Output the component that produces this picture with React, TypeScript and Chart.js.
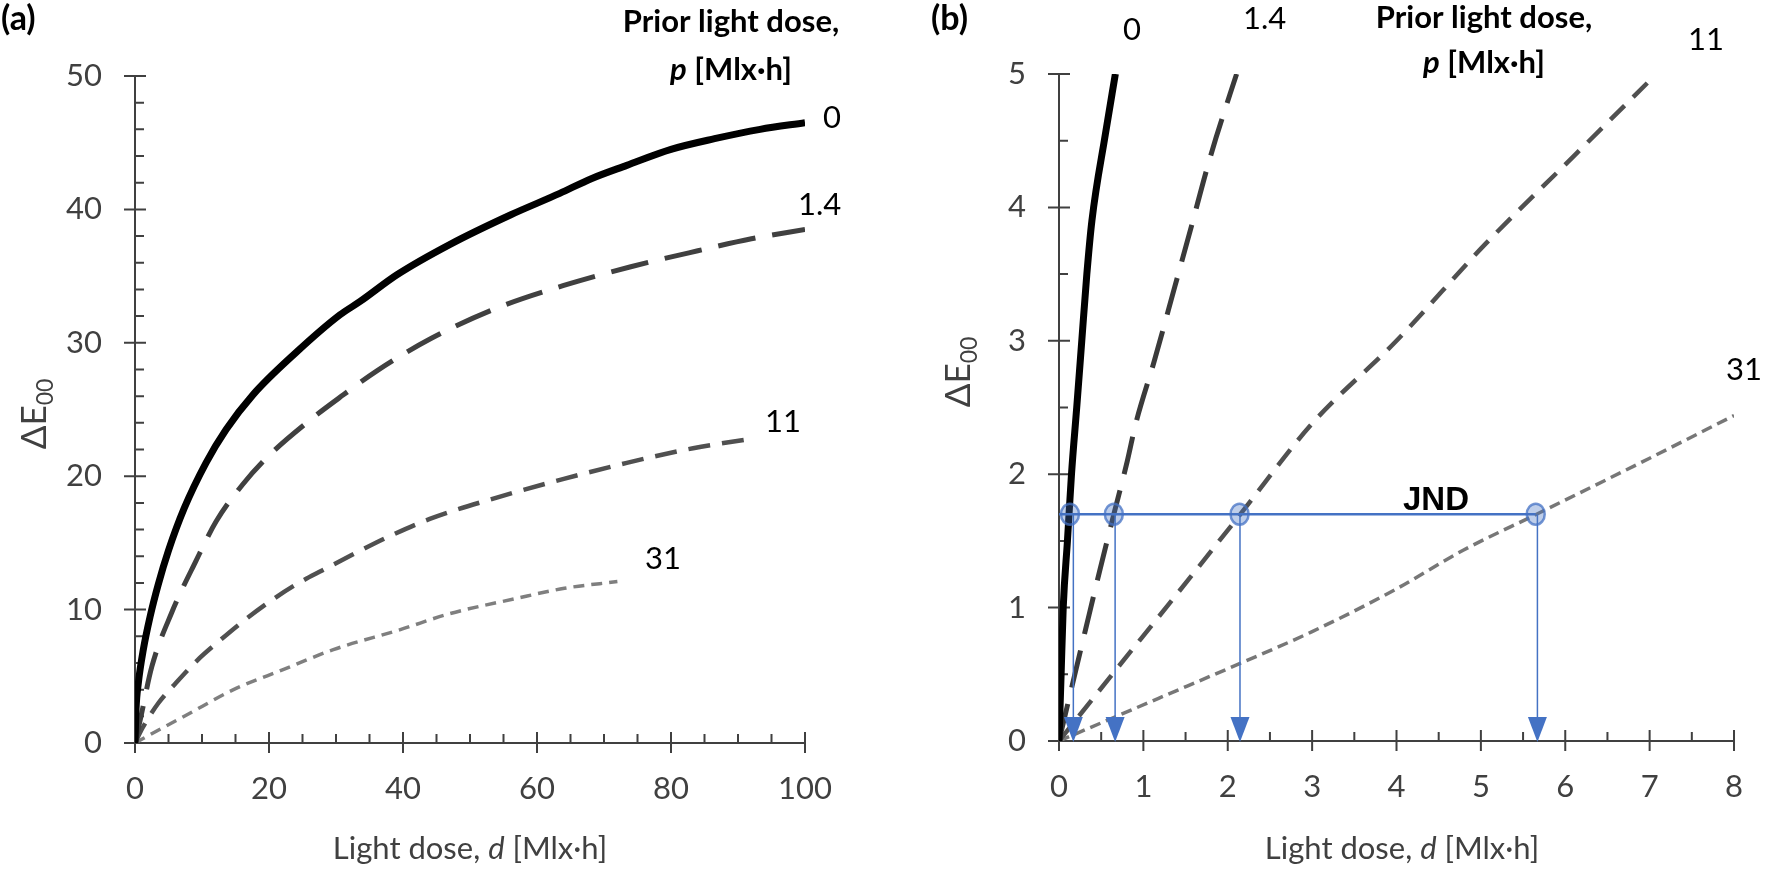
import React, { useEffect, useRef } from 'react';
import { Chart, registerables } from 'chart.js';

Chart.register(...registerables);

// ---------------- Panel (a): full dose range ----------------
const A_X_TICKS = [0, 20, 40, 60, 80, 100];
const A_Y_TICKS = [0, 10, 20, 30, 40, 50];
const A_X_MINOR_STEP = 5;
const A_Y_MINOR_STEP = 2;

// p = 0
const A_DOSE_P0 = [0, 0.15, 0.5, 1.24, 2.24, 3.48, 4.98, 7.35, 10.6, 13.6, 17.6, 24.1, 30.6, 33.6, 39.1, 47.1, 56.1, 63.4, 68.1, 73.4, 80, 86.5, 93.3, 100];
const A_DE_P0 = [0, 2.5, 4.5, 7.0, 9.45, 11.9, 14.4, 17.6, 21.0, 23.5, 26.1, 29.3, 32.1, 33.1, 35.1, 37.4, 39.6, 41.2, 42.3, 43.3, 44.5, 45.3, 46.0, 46.5];
// p = 1.4
const A_DOSE_P14 = [0, 0.85, 2.5, 5.5, 9.05, 12.1, 16.1, 20.1, 26.1, 31.1, 36.1, 44.1, 54, 64, 74, 84, 92, 100];
const A_DE_P14 = [0, 1.9, 5.7, 9.8, 13.6, 16.6, 19.4, 21.6, 24.2, 26.1, 27.9, 30.3, 32.6, 34.3, 35.7, 36.9, 37.8, 38.5];
// p = 11
const A_DOSE_P11 = [0, 1.2, 3.5, 6.1, 9.3, 12.7, 16.2, 20.1, 24.1, 28, 32.2, 38, 44, 54, 64, 73.4, 83.3, 92];
const A_DE_P11 = [0, 1.2, 3.0, 4.5, 6.2, 7.7, 9.15, 10.6, 11.9, 12.95, 14.05, 15.5, 16.8, 18.4, 19.8, 21.0, 22.1, 22.8];
// p = 31
const A_DOSE_P31 = [0, 4, 7.7, 14.7, 22.1, 29.6, 39.6, 47, 56.6, 64.1, 72];
const A_DE_P31 = [0, 1.1, 2.1, 4.0, 5.5, 7.0, 8.5, 9.7, 10.8, 11.6, 12.1];

// ---------------- Panel (b): low dose range ----------------
const B_X_TICKS = [0, 1, 2, 3, 4, 5, 6, 7, 8];
const B_Y_TICKS = [0, 1, 2, 3, 4, 5];
const B_X_MINOR_STEP = 0.5;
const B_Y_MINOR_STEP = 0.5;

const B_DOSE_P0 = [0, 0.025, 0.05, 0.1, 0.148, 0.21, 0.27, 0.33, 0.39, 0.55, 0.668];
const B_DE_P0 = [0, 0.5, 1.0, 1.5, 2.0, 2.5, 3.0, 3.5, 3.9, 4.55, 5.0];
const B_DOSE_P14 = [0, 0.15, 0.32, 0.48, 0.65, 0.81, 0.91, 1.13, 1.37, 1.57, 1.74, 1.86, 2.105];
const B_DE_P14 = [0, 0.4, 0.85, 1.27, 1.7, 2.1, 2.38, 2.85, 3.4, 3.86, 4.26, 4.52, 5.0];
const B_DOSE_P11 = [0, 0.67, 1.37, 2.15, 3.0, 4.0, 5.06, 6.11, 7.0];
const B_DE_P11 = [0, 0.53, 1.08, 1.7, 2.38, 3.0, 3.73, 4.39, 4.95];
const B_DOSE_P31 = [0, 1.18, 2.14, 3.0, 3.97, 4.79, 5.66, 7.0, 8.0];
const B_DE_P31 = [0, 0.32, 0.58, 0.82, 1.13, 1.43, 1.7, 2.12, 2.44];

// Just noticeable difference
const JND_VALUE = 1.7;
const JND_ARROW_DOSES = [0.17, 0.665, 2.145, 5.67];
const JND_HIT_DOSES = [0.13, 0.65, 2.14, 5.65];

// ---------------- styling ----------------
const AXIS_COLOR = '#404040';
const JND_COLOR = '#4472C4';
const FONT = 'Lato, "Open Sans", "DejaVu Sans", sans-serif';
const W = 885;
const H = 874;

type Series = { dose: number[]; de: number[]; color: string; width: number; dash: number[] };
type Run = { t: string; font: string; dy?: number };
type TextItem = { runs: Run[]; x: number; y: number; align: 'left' | 'center'; color: string; rotate?: boolean };
type Panel = {
  area: { left: number; right: number; top: number; bottom: number };
  xTicks: number[];
  yTicks: number[];
  xMinor: number;
  yMinor: number;
  series: Series[];
  texts: TextItem[];
  jnd?: { value: number; arrows: number[]; hits: number[] };
  labelPadX: number;
  labelPadY: number;
};

const reg = (s: number) => `${s}px ${FONT}`;
const bold = (s: number) => `bold ${s}px ${FONT}`;
const boldIt = (s: number) => `italic bold ${s}px ${FONT}`;
const ital = (s: number) => `italic ${s}px ${FONT}`;

const xTitleRuns = (): Run[] => [
  { t: 'Light dose, ', font: reg(31) },
  { t: 'd', font: ital(31) },
  { t: ' [Mlx·h]', font: reg(31) },
];
const yTitleRuns = (): Run[] => [
  { t: 'ΔE', font: reg(35) },
  { t: '00', font: reg(23), dy: 7 },
];
const headerLines = (cx: number, y1: number, y2: number): TextItem[] => [
  { runs: [{ t: 'Prior light dose,', font: bold(31) }], x: cx, y: y1, align: 'center', color: '#000' },
  { runs: [{ t: 'p', font: boldIt(31) }, { t: ' [Mlx·h]', font: bold(31) }], x: cx, y: y2, align: 'center', color: '#000' },
];
const lbl = (t: string, x: number, y: number): TextItem => ({ runs: [{ t, font: reg(31) }], x, y, align: 'left', color: '#000' });

const PANEL_A: Panel = {
  area: { left: 135, right: 805, top: 76, bottom: 743 },
  xTicks: A_X_TICKS,
  yTicks: A_Y_TICKS,
  xMinor: A_X_MINOR_STEP,
  yMinor: A_Y_MINOR_STEP,
  labelPadX: 27,
  labelPadY: 33,
  series: [
    { dose: A_DOSE_P0, de: A_DE_P0, color: '#000000', width: 7, dash: [] },
    { dose: A_DOSE_P14, de: A_DE_P14, color: '#404040', width: 5, dash: [38, 17] },
    { dose: A_DOSE_P11, de: A_DE_P11, color: '#505050', width: 4.5, dash: [22, 12] },
    { dose: A_DOSE_P31, de: A_DE_P31, color: '#7f7f7f', width: 3.5, dash: [11, 7] },
  ],
  texts: [
    { runs: [{ t: '(a)', font: bold(34) }], x: 1, y: 30, align: 'left', color: '#000' },
    ...headerLines(731, 32, 80),
    lbl('0', 823, 128),
    lbl('1.4', 798, 215),
    lbl('11', 765, 432),
    lbl('31', 645, 569),
    { runs: yTitleRuns(), x: 34, y: 414, align: 'center', color: AXIS_COLOR, rotate: true },
    { runs: xTitleRuns(), x: 470, y: 859, align: 'center', color: AXIS_COLOR },
  ],
};

const OFF_B = 885;
const PANEL_B: Panel = {
  area: { left: 1059 - OFF_B, right: 1745 - OFF_B, top: 74, bottom: 741 },
  xTicks: B_X_TICKS,
  yTicks: B_Y_TICKS,
  xMinor: B_X_MINOR_STEP,
  yMinor: B_Y_MINOR_STEP,
  labelPadX: 27,
  labelPadY: 33,
  series: [
    { dose: B_DOSE_P0, de: B_DE_P0, color: '#000000', width: 7, dash: [] },
    { dose: B_DOSE_P14, de: B_DE_P14, color: '#3a3a3a', width: 5, dash: [38, 17] },
    { dose: B_DOSE_P11, de: B_DE_P11, color: '#505050', width: 4.5, dash: [20, 12] },
    { dose: B_DOSE_P31, de: B_DE_P31, color: '#777777', width: 3.5, dash: [11, 6] },
  ],
  jnd: { value: JND_VALUE, arrows: JND_ARROW_DOSES, hits: JND_HIT_DOSES },
  texts: [
    { runs: [{ t: '(b)', font: bold(34) }], x: 931 - OFF_B, y: 30, align: 'left', color: '#000' },
    ...headerLines(1484 - OFF_B, 28, 73),
    lbl('0', 1123 - OFF_B, 40),
    lbl('1.4', 1243 - OFF_B, 29),
    lbl('11', 1688 - OFF_B, 50),
    lbl('31', 1726 - OFF_B, 380),
    { runs: [{ t: 'JND', font: 'bold 33px "Liberation Sans", Arial, sans-serif' }], x: 1403 - OFF_B, y: 510, align: 'left', color: '#000' },
    { runs: yTitleRuns(), x: 958 - OFF_B, y: 372, align: 'center', color: AXIS_COLOR, rotate: true },
    { runs: xTitleRuns(), x: (1059 + 1745) / 2 - OFF_B, y: 859, align: 'center', color: AXIS_COLOR },
  ],
};

function drawRuns(ctx: CanvasRenderingContext2D, runs: Run[], x: number, y: number, align: 'left' | 'center') {
  const widths = runs.map((r) => {
    ctx.font = r.font;
    return ctx.measureText(r.t).width;
  });
  const total = widths.reduce((a, b) => a + b, 0);
  let cx = align === 'center' ? x - total / 2 : x;
  runs.forEach((r, i) => {
    ctx.font = r.font;
    ctx.fillText(r.t, cx, y + (r.dy || 0));
    cx += widths[i];
  });
}

function decorPlugin(p: Panel) {
  return {
    id: 'decor',
    beforeDatasetsDraw(chart: any) {
      const ctx: CanvasRenderingContext2D = chart.ctx;
      const xs = chart.scales.x;
      const ys = chart.scales.y;
      const xmin = p.xTicks[0];
      const xmax = p.xTicks[p.xTicks.length - 1];
      const ymin = p.yTicks[0];
      const ymax = p.yTicks[p.yTicks.length - 1];
      const x0 = xs.getPixelForValue(xmin);
      const x1 = xs.getPixelForValue(xmax);
      const y0 = ys.getPixelForValue(ymin);
      const y1 = ys.getPixelForValue(ymax);
      ctx.save();
      ctx.strokeStyle = AXIS_COLOR;
      ctx.lineWidth = 2;
      ctx.beginPath();
      ctx.moveTo(x0, y1);
      ctx.lineTo(x0, y0);
      ctx.moveTo(x0, y0);
      ctx.lineTo(x1, y0);
      p.yTicks.forEach((v) => {
        const py = ys.getPixelForValue(v);
        ctx.moveTo(x0 - 11, py);
        ctx.lineTo(x0 + 11, py);
      });
      p.xTicks.forEach((v) => {
        const px = xs.getPixelForValue(v);
        ctx.moveTo(px, y0 - 11);
        ctx.lineTo(px, y0 + 10);
      });
      const isMajor = (arr: number[], v: number) => arr.some((m) => Math.abs(m - v) < 1e-9);
      const nx = Math.round((xmax - xmin) / p.xMinor);
      for (let i = 0; i <= nx; i++) {
        const v = xmin + i * p.xMinor;
        if (isMajor(p.xTicks, v)) continue;
        const px = xs.getPixelForValue(v);
        ctx.moveTo(px, y0 - 9);
        ctx.lineTo(px, y0);
      }
      const ny = Math.round((ymax - ymin) / p.yMinor);
      for (let i = 0; i <= ny; i++) {
        const v = ymin + i * p.yMinor;
        if (isMajor(p.yTicks, v)) continue;
        const py = ys.getPixelForValue(v);
        ctx.moveTo(x0, py);
        ctx.lineTo(x0 + 9, py);
      }
      ctx.stroke();
      ctx.restore();
    },
    afterDatasetsDraw(chart: any) {
      if (!p.jnd) return;
      const ctx: CanvasRenderingContext2D = chart.ctx;
      const xs = chart.scales.x;
      const ys = chart.scales.y;
      const J = p.jnd;
      const py = ys.getPixelForValue(J.value);
      const base = ys.getPixelForValue(0);
      ctx.save();
      ctx.strokeStyle = JND_COLOR;
      ctx.fillStyle = JND_COLOR;
      ctx.lineWidth = 2.5;
      ctx.beginPath();
      ctx.moveTo(xs.getPixelForValue(0), py);
      ctx.lineTo(xs.getPixelForValue(J.hits[J.hits.length - 1]), py);
      ctx.stroke();
      ctx.lineWidth = 1.5;
      J.arrows.forEach((d) => {
        const px = xs.getPixelForValue(d);
        ctx.beginPath();
        ctx.moveTo(px, py);
        ctx.lineTo(px, base - 20);
        ctx.stroke();
        ctx.beginPath();
        ctx.moveTo(px - 9.5, base - 24);
        ctx.lineTo(px + 9.5, base - 24);
        ctx.lineTo(px, base + 1);
        ctx.closePath();
        ctx.fill();
      });
      J.hits.forEach((d) => {
        const px = xs.getPixelForValue(d);
        ctx.beginPath();
        ctx.ellipse(px, py, 9, 10.5, 0, 0, Math.PI * 2);
        ctx.fillStyle = 'rgba(68,114,196,0.35)';
        ctx.fill();
        ctx.strokeStyle = 'rgba(68,114,196,0.75)';
        ctx.lineWidth = 2.5;
        ctx.stroke();
      });
      ctx.restore();
    },
    afterDraw(chart: any) {
      const ctx: CanvasRenderingContext2D = chart.ctx;
      ctx.save();
      ctx.textAlign = 'left';
      ctx.textBaseline = 'alphabetic';
      p.texts.forEach((t) => {
        ctx.fillStyle = t.color;
        if (t.rotate) {
          ctx.save();
          ctx.translate(t.x, t.y);
          ctx.rotate(-Math.PI / 2);
          drawRuns(ctx, t.runs, 0, 12, 'center');
          ctx.restore();
        } else {
          drawRuns(ctx, t.runs, t.x, t.y, t.align);
        }
      });
      ctx.restore();
    },
  };
}

function buildConfig(p: Panel): any {
  const xmin = p.xTicks[0];
  const xmax = p.xTicks[p.xTicks.length - 1];
  const ymin = p.yTicks[0];
  const ymax = p.yTicks[p.yTicks.length - 1];
  return {
    type: 'scatter',
    data: {
      datasets: p.series.map((s) => ({
        data: s.dose.map((d, i) => ({ x: d, y: s.de[i] })),
        showLine: true,
        borderColor: s.color,
        backgroundColor: s.color,
        borderWidth: s.width,
        borderDash: s.dash,
        borderCapStyle: 'butt',
        borderJoinStyle: 'round',
        pointRadius: 0,
        pointHoverRadius: 0,
        cubicInterpolationMode: 'monotone',
        fill: false,
      })),
    },
    options: {
      animation: false,
      responsive: false,
      devicePixelRatio: 1,
      events: [],
      layout: { padding: { left: 0, top: p.area.top, right: W - p.area.right, bottom: 0 } },
      plugins: { legend: { display: false }, tooltip: { enabled: false }, title: { display: false } },
      scales: {
        x: {
          type: 'linear',
          min: xmin,
          max: xmax,
          afterBuildTicks: (s: any) => {
            s.ticks = p.xTicks.map((v) => ({ value: v }));
          },
          afterFit: (s: any) => {
            s.height = H - p.area.bottom;
          },
          grid: { display: false, drawTicks: false },
          border: { display: false },
          ticks: { color: AXIS_COLOR, font: { family: FONT, size: 31 }, padding: p.labelPadX, maxRotation: 0, autoSkip: false },
        },
        y: {
          type: 'linear',
          min: ymin,
          max: ymax,
          afterBuildTicks: (s: any) => {
            s.ticks = p.yTicks.map((v) => ({ value: v }));
          },
          afterFit: (s: any) => {
            s.width = p.area.left;
          },
          grid: { display: false, drawTicks: false },
          border: { display: false },
          ticks: { color: AXIS_COLOR, font: { family: FONT, size: 31 }, padding: p.labelPadY, autoSkip: false },
        },
      },
    },
    plugins: [decorPlugin(p)],
  };
}

export default function App() {
  const refA = useRef<HTMLCanvasElement>(null);
  const refB = useRef<HTMLCanvasElement>(null);

  useEffect(() => {
    let cancelled = false;
    const charts: Chart[] = [];
    const fonts: any = (document as any).fonts;
    const ready = fonts
      ? Promise.all([
          fonts.load(`30px Lato`),
          fonts.load(`bold 30px Lato`),
          fonts.load(`italic 30px Lato`),
          fonts.load(`italic bold 30px Lato`),
          fonts.load(`bold 33px "Liberation Sans"`),
        ]).catch(() => undefined)
      : Promise.resolve();
    ready.then(() => {
      if (cancelled) return;
      if (refA.current) charts.push(new Chart(refA.current, buildConfig(PANEL_A)));
      if (refB.current) charts.push(new Chart(refB.current, buildConfig(PANEL_B)));
    });
    return () => {
      cancelled = true;
      charts.forEach((c) => c.destroy());
    };
  }, []);

  return (
    <div style={{ position: 'fixed', left: 0, top: 0, width: 1770, height: 874, background: '#ffffff' }}>
      <canvas ref={refA} width={W} height={H} style={{ position: 'absolute', left: 0, top: 0, width: W, height: H }} />
      <canvas ref={refB} width={W} height={H} style={{ position: 'absolute', left: OFF_B, top: 0, width: W, height: H }} />
    </div>
  );
}
